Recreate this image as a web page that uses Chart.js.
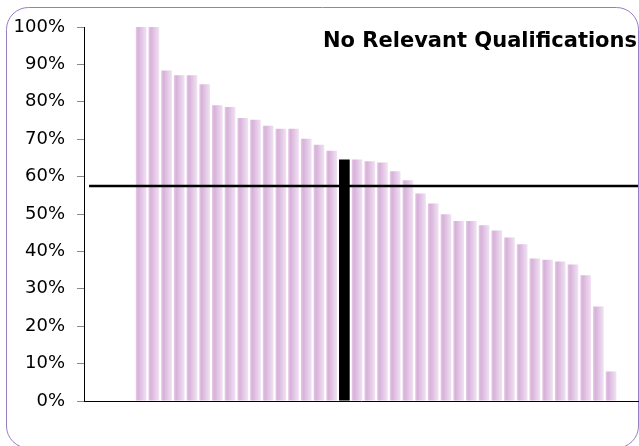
<!DOCTYPE html>
<html><head><meta charset="utf-8">
<script src="https://cdn.jsdelivr.net/npm/chart.js@4"></script>
<style>html,body{margin:0;padding:0;background:#fff;overflow:hidden}#wrap{position:relative;width:639px;height:446px}</style>
</head><body><div id="wrap"><canvas id="c" width="639" height="446"></canvas></div>
<script>
const chartTitle = 'No Relevant Qualifications';
const values = [1.00,1.00,0.884,0.871,0.871,0.847,0.791,0.786,0.757,0.752,0.736,0.728,0.728,0.701,0.685,0.669,0.646,0.646,0.641,0.638,0.614,0.590,0.555,0.528,0.499,0.481,0.481,0.470,0.456,0.437,0.419,0.381,0.378,0.373,0.365,0.336,0.253,0.079];
const highlightIndex = 16;
const average = 0.575;
const yTickValues = [0,0.1,0.2,0.3,0.4,0.5,0.6,0.7,0.8,0.9,1.0];

const X_MIN = -4.5, X_MAX = 39.12;
const barData = values.map((v, i) => ({x: i, y: v}));
const avgData = [{x: X_MIN + 0.4, y: average}, {x: X_MAX, y: average}];

const frame = {
  id: 'frame',
  beforeDraw(chart) {
    const ctx = chart.ctx;
    ctx.save();
    ctx.fillStyle = '#fff';
    ctx.fillRect(0, 0, chart.width, chart.height);
    const x0 = 6.5, y0 = 7.5, x1 = 638.5, y1 = 448, r = 22;
    ctx.beginPath();
    ctx.moveTo(x0 + r, y0);
    ctx.lineTo(x1 - r, y0);
    ctx.arcTo(x1, y0, x1, y0 + r, r);
    ctx.lineTo(x1, y1 - r);
    ctx.arcTo(x1, y1, x1 - r, y1, r);
    ctx.lineTo(x0 + r, y1);
    ctx.arcTo(x0, y1, x0, y1 - r, r);
    ctx.lineTo(x0, y0 + r);
    ctx.arcTo(x0, y0, x0 + r, y0, r);
    ctx.closePath();
    ctx.strokeStyle = '#9a7cc2';
    ctx.lineWidth = 1;
    ctx.stroke();
    ctx.restore();
  },
  afterDraw(chart) {
    const ctx = chart.ctx;
    ctx.save();
    ctx.font = 'bold 21px "DejaVu Sans"';
    ctx.fillStyle = '#000';
    ctx.textAlign = 'right';
    ctx.textBaseline = 'alphabetic';
    ctx.fillText(chartTitle, 637, 47);
    ctx.restore();
  }
};

function barColor(c) {
  if (c.type !== 'data') return '#d8b0d8';
  if (c.dataIndex === highlightIndex) return '#000';
  const chart = c.chart;
  const xs = chart.scales.x;
  if (!xs || !chart.chartArea) return '#d8b0d8';
  const cx = xs.getPixelForValue(c.parsed ? c.parsed.x : c.dataIndex);
  const half = 5.4;
  const g = chart.ctx.createLinearGradient(cx - half, 0, cx + half, 0);
  g.addColorStop(0, '#e6cbe6');
  g.addColorStop(0.22, '#d8b1da');
  g.addColorStop(1, '#f1e3f3');
  return g;
}

new Chart(document.getElementById('c'), {
  type: 'bar',
  data: {
    datasets: [
      {type: 'line', data: avgData, borderColor: '#000', borderWidth: 2.5, pointRadius: 0, order: 0, fill: false},
      {type: 'bar', data: barData, backgroundColor: barColor, borderWidth: 0, barPercentage: 0.84, categoryPercentage: 1, order: 1}
    ]
  },
  options: {
    responsive: false,
    animation: false,
    events: [],
    layout: {padding: {top: 27, right: 1, bottom: 37, left: 0}},
    plugins: {legend: {display: false}, tooltip: {enabled: false}, title: {display: false}},
    scales: {
      x: {
        type: 'linear', min: X_MIN, max: X_MAX, offset: false,
        ticks: {display: false},
        grid: {display: false},
        border: {display: true, color: '#000', width: 1}
      },
      y: {
        min: 0, max: 1,
        afterBuildTicks: s => { s.ticks = yTickValues.map(v => ({value: v})); },
        afterFit: s => { s.width = 84; },
        ticks: {
          callback: v => Math.round(v * 100) + '%',
          font: {family: 'DejaVu Sans', size: 18},
          color: '#000',
          padding: 12
        },
        grid: {drawOnChartArea: false, drawTicks: true, tickLength: 7, color: '#888'},
        border: {display: true, color: '#000', width: 1}
      }
    }
  },
  plugins: [frame]
});
</script></body></html>
